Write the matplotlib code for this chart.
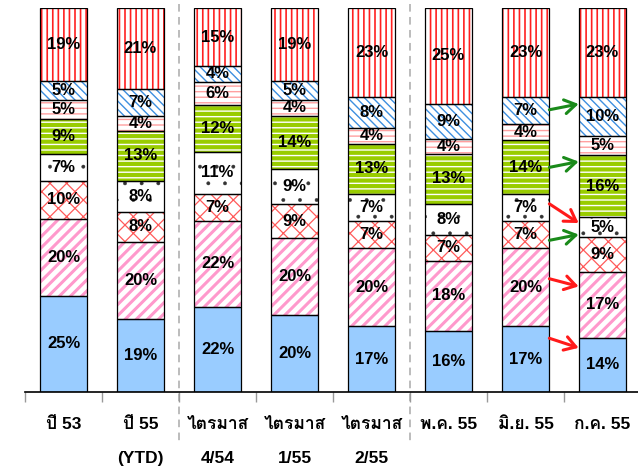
import numpy as np
import matplotlib
matplotlib.use("Agg")
import matplotlib.pyplot as plt
from matplotlib import font_manager


# find an installed font that has Thai glyphs (for the tick labels)
def find_thai_font():
    try:
        from fontTools.ttLib import TTFont
    except ImportError:
        return None
    for f in font_manager.fontManager.ttflist:
        try:
            cmap = TTFont(f.fname, fontNumber=0, lazy=True).getBestCmap()
        except Exception:
            continue
        if cmap and 0x0E1B in cmap and 0x0E44 in cmap:
            return f.name
    return None


thai_font = find_thai_font()
label_family = ["Liberation Sans", "DejaVu Sans"]
if thai_font:
    label_family.insert(1, thai_font)

# data (shares in %, bottom to top)
categories = ["ปี 53", "ปี 55\n\n(YTD)", "ไตรมาส\n\n4/54", "ไตรมาส\n\n1/55",
              "ไตรมาส\n\n2/55", "พ.ค. 55", "มิ.ย. 55", "ก.ค. 55"]
seg_blue = [25, 19, 22, 20, 17, 16, 17, 14]
seg_pink = [20, 20, 22, 20, 20, 18, 20, 17]
seg_cross = [10, 8, 7, 9, 7, 7, 7, 9]
seg_dots = [7, 8, 11, 9, 7, 8, 7, 5]
seg_green = [9, 13, 12, 14, 13, 13, 14, 16]
seg_dash = [5, 4, 6, 4, 4, 4, 4, 5]
seg_bluehatch = [5, 7, 4, 5, 8, 9, 7, 10]
seg_red = [19, 21, 15, 19, 23, 25, 23, 23]

# (fill colour, hatch, hatch colour, hatch linewidth)
styles = [
    ("#99CCFF", None, None, 1.0),
    ("white", "///", "#FF99CC", 2.2),
    ("white", "xx", "#FF5A5A", 0.9),
    ("white", ".", "#333333", 0.3),
    ("white", "---", "#99CC00", 3.0),
    ("white", "---", "#FFA0A0", 1.0),
    ("white", "\\\\\\\\", "#3D8FE0", 1.0),
    ("white", "|||", "#FF2020", 1.2),
]
segments = [seg_blue, seg_pink, seg_cross, seg_dots, seg_green,
            seg_dash, seg_bluehatch, seg_red]

# arrows between the last two bars: (from level, to level, colour)
arrows = [(73.5, 75, "#1A8A1A"), (58.5, 60, "#1A8A1A"), (49, 44, "#FF1A1A"),
          (39.5, 41, "#1A8A1A"), (29.5, 27.5, "#FF1A1A"), (14, 11.5, "#FF1A1A")]

fig = plt.figure(figsize=(6.38, 4.68), dpi=100)
ax = fig.add_axes([25 / 638, 76 / 468, 616 / 638, 384 / 468])

x = np.arange(len(categories))
width = 0.62
# 100% stacked: each bar is scaled to fill the full height
totals = np.sum(np.array(segments, dtype=float), axis=0)
bottom = np.zeros(len(categories))
for vals, (fc, hatch, hc, hlw) in zip(segments, styles):
    labels = np.array(vals, dtype=float)
    heights = labels / totals * 100
    if hatch:
        with plt.rc_context({"hatch.linewidth": hlw, "hatch.color": hc}):
            bars = ax.bar(x, heights, width, bottom=bottom, color=fc,
                          hatch=hatch, edgecolor=hc, linewidth=0, zorder=2)
            for b in bars:
                try:
                    b.set_hatch_linewidth(hlw)
                except AttributeError:
                    pass
    else:
        ax.bar(x, heights, width, bottom=bottom, color=fc, linewidth=0, zorder=2)
    ax.bar(x, heights, width, bottom=bottom, fill=False, edgecolor="black",
           linewidth=0.9, zorder=3)
    for xi, b, h, v in zip(x, bottom, heights, labels):
        ax.text(xi, b + h / 2, f"{int(v)}%", ha="center", va="center",
                fontsize=12, fontweight="bold", family="Liberation Sans",
                zorder=5)
    bottom += heights

# arrows from bar 7 to bar 8
for y0, y1, col in arrows:
    ax.annotate("", xy=(7 - width / 2, y1), xytext=(6 + width / 2, y0),
                arrowprops=dict(arrowstyle="->,head_length=0.8,head_width=0.5",
                                color=col, lw=2.2, shrinkA=0, shrinkB=0),
                zorder=6, annotation_clip=False)

ax.set_xlim(-0.5, len(categories) - 0.5)
ax.set_ylim(0, 100)
for s in ["top", "right", "left"]:
    ax.spines[s].set_visible(False)
ax.spines["bottom"].set_linewidth(1.2)
ax.set_yticks([])

ax.set_xticks(x)
ax.set_xticklabels(categories, fontsize=12.5, fontweight="bold",
                   family=label_family, va="top", linespacing=1.15)
ax.tick_params(axis="x", length=0, pad=18)
ax.set_xticks(np.arange(-0.5, len(categories), 1), minor=True)
ax.tick_params(axis="x", which="minor", length=7, color="#999999", width=1)

# dashed group separators
for xs in [1.5, 4.5]:
    ax.plot([xs, xs], [101, -13.8], color="#AAAAAA", lw=1.1,
            dashes=(5, 3.5), clip_on=False, zorder=1)

fig.savefig("out.png", dpi=100)
